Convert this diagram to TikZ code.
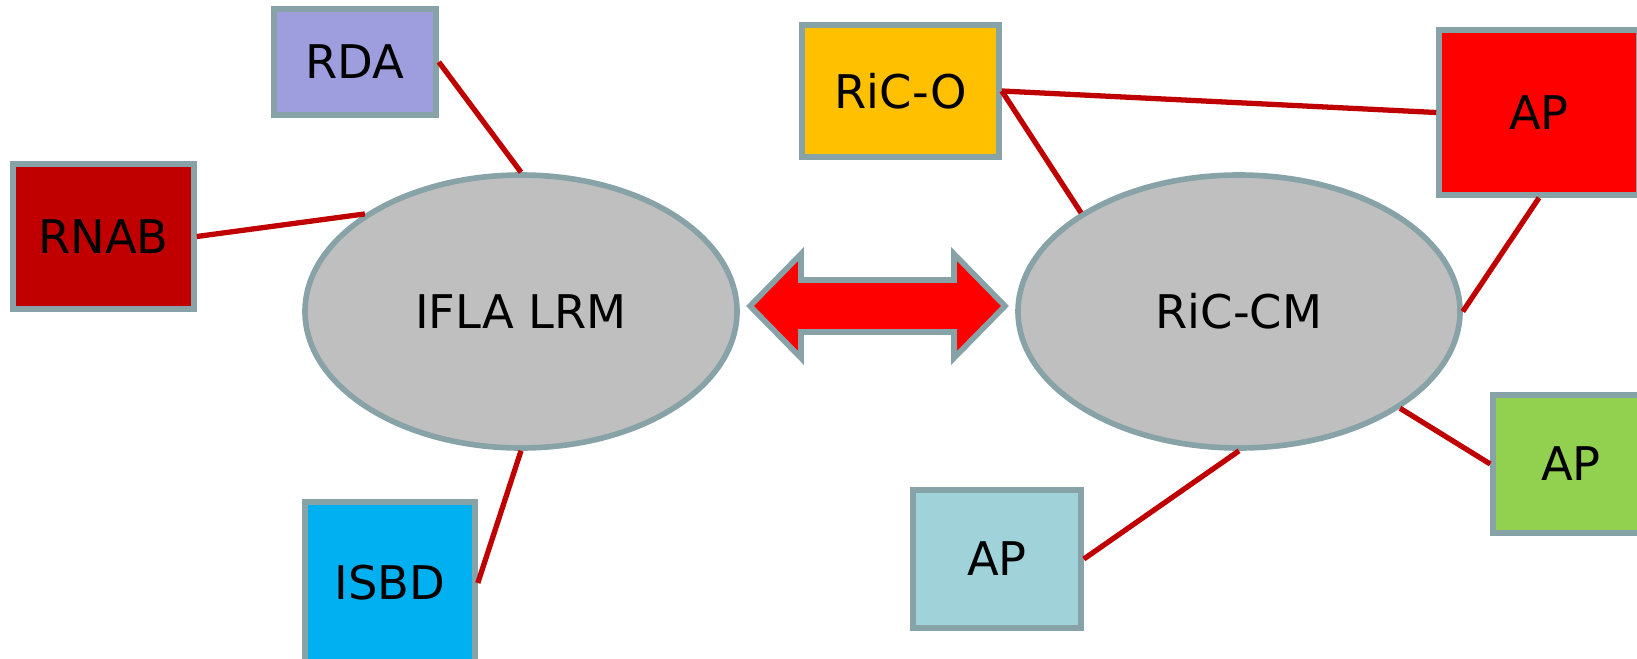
\documentclass[tikz,border=0pt]{standalone}
\usepackage{fontspec}
\setmainfont{DejaVu Sans}
\definecolor{edge}{HTML}{87A3A7}
\definecolor{link}{HTML}{C00000}
\definecolor{oval}{HTML}{BFBFBF}
\definecolor{lavender}{HTML}{9E9EDE}
\definecolor{darkred}{HTML}{C00000}
\definecolor{skyblue}{HTML}{00B0F0}
\definecolor{amber}{HTML}{FFC000}
\definecolor{leaf}{HTML}{92D050}
\definecolor{pale}{HTML}{A0D3D9}
\tikzset{
  box/.style={draw=edge, line width=1.6pt, inner sep=0pt, font=\fontsize{13.2}{16}\selectfont},
  model/.style={box, ellipse, fill=oval},
  link/.style={draw=link, line width=1.5pt}
}
\usetikzlibrary{shapes.geometric}
\begin{document}
\begin{tikzpicture}
  \useasboundingbox (0,0) rectangle (16.37,-6.58);
  \clip (0,0) rectangle (16.37,-6.58);
  % left side
  \node [model, minimum width=4.32cm, minimum height=2.73cm] (lrm) at (5.21,-3.115) {IFLA LRM};
  \node [box, fill=lavender, minimum width=1.62cm, minimum height=1.06cm] (rda) at (3.55,-0.62) {RDA};
  \node [box, fill=darkred, minimum width=1.81cm, minimum height=1.45cm] (rnab) at (1.035,-2.365) {RNAB};
  \node [box, fill=skyblue, minimum width=1.70cm, minimum height=1.62cm] (isbd) at (3.90,-5.83) {ISBD};
  % right side
  \node [model, minimum width=4.42cm, minimum height=2.73cm] (ricm) at (12.39,-3.115) {RiC-CM};
  \node [box, fill=amber, minimum width=1.97cm, minimum height=1.32cm] (rico) at (9.005,-0.91) {RiC-O};
  \node [box, fill=red, minimum width=2.00cm, minimum height=1.65cm] (apa) at (15.39,-1.125) {AP};
  \node [box, fill=leaf, minimum width=1.56cm, minimum height=1.38cm] (apb) at (15.71,-4.64) {AP};
  \node [box, fill=pale, minimum width=1.68cm, minimum height=1.38cm] (apc) at (9.97,-5.59) {AP};
  % double arrow
  \draw [edge, fill=red, line width=1.6pt] (7.50,-3.06) -- (8.01,-2.54) -- (8.01,-2.80) -- (9.54,-2.80) -- (9.54,-2.54)
    -- (10.05,-3.06) -- (9.54,-3.58) -- (9.54,-3.32) -- (8.01,-3.32) -- (8.01,-3.58) -- cycle;
  % links
  \draw [link] (rda.east) -- (lrm.north);
  \draw [link] (rnab.east) -- (lrm.148);
  \draw [link] (isbd.east) -- (lrm.south);
  \draw [link] (rico.east) -- (apa.west);
  \draw [link] (rico.east) -- (ricm.148);
  \draw [link] (apa.south) -- (ricm.east);
  \draw [link] (apb.west) -- (ricm.-31.5);
  \draw [link] (apc.east) -- (ricm.south);
\end{tikzpicture}
\end{document}
